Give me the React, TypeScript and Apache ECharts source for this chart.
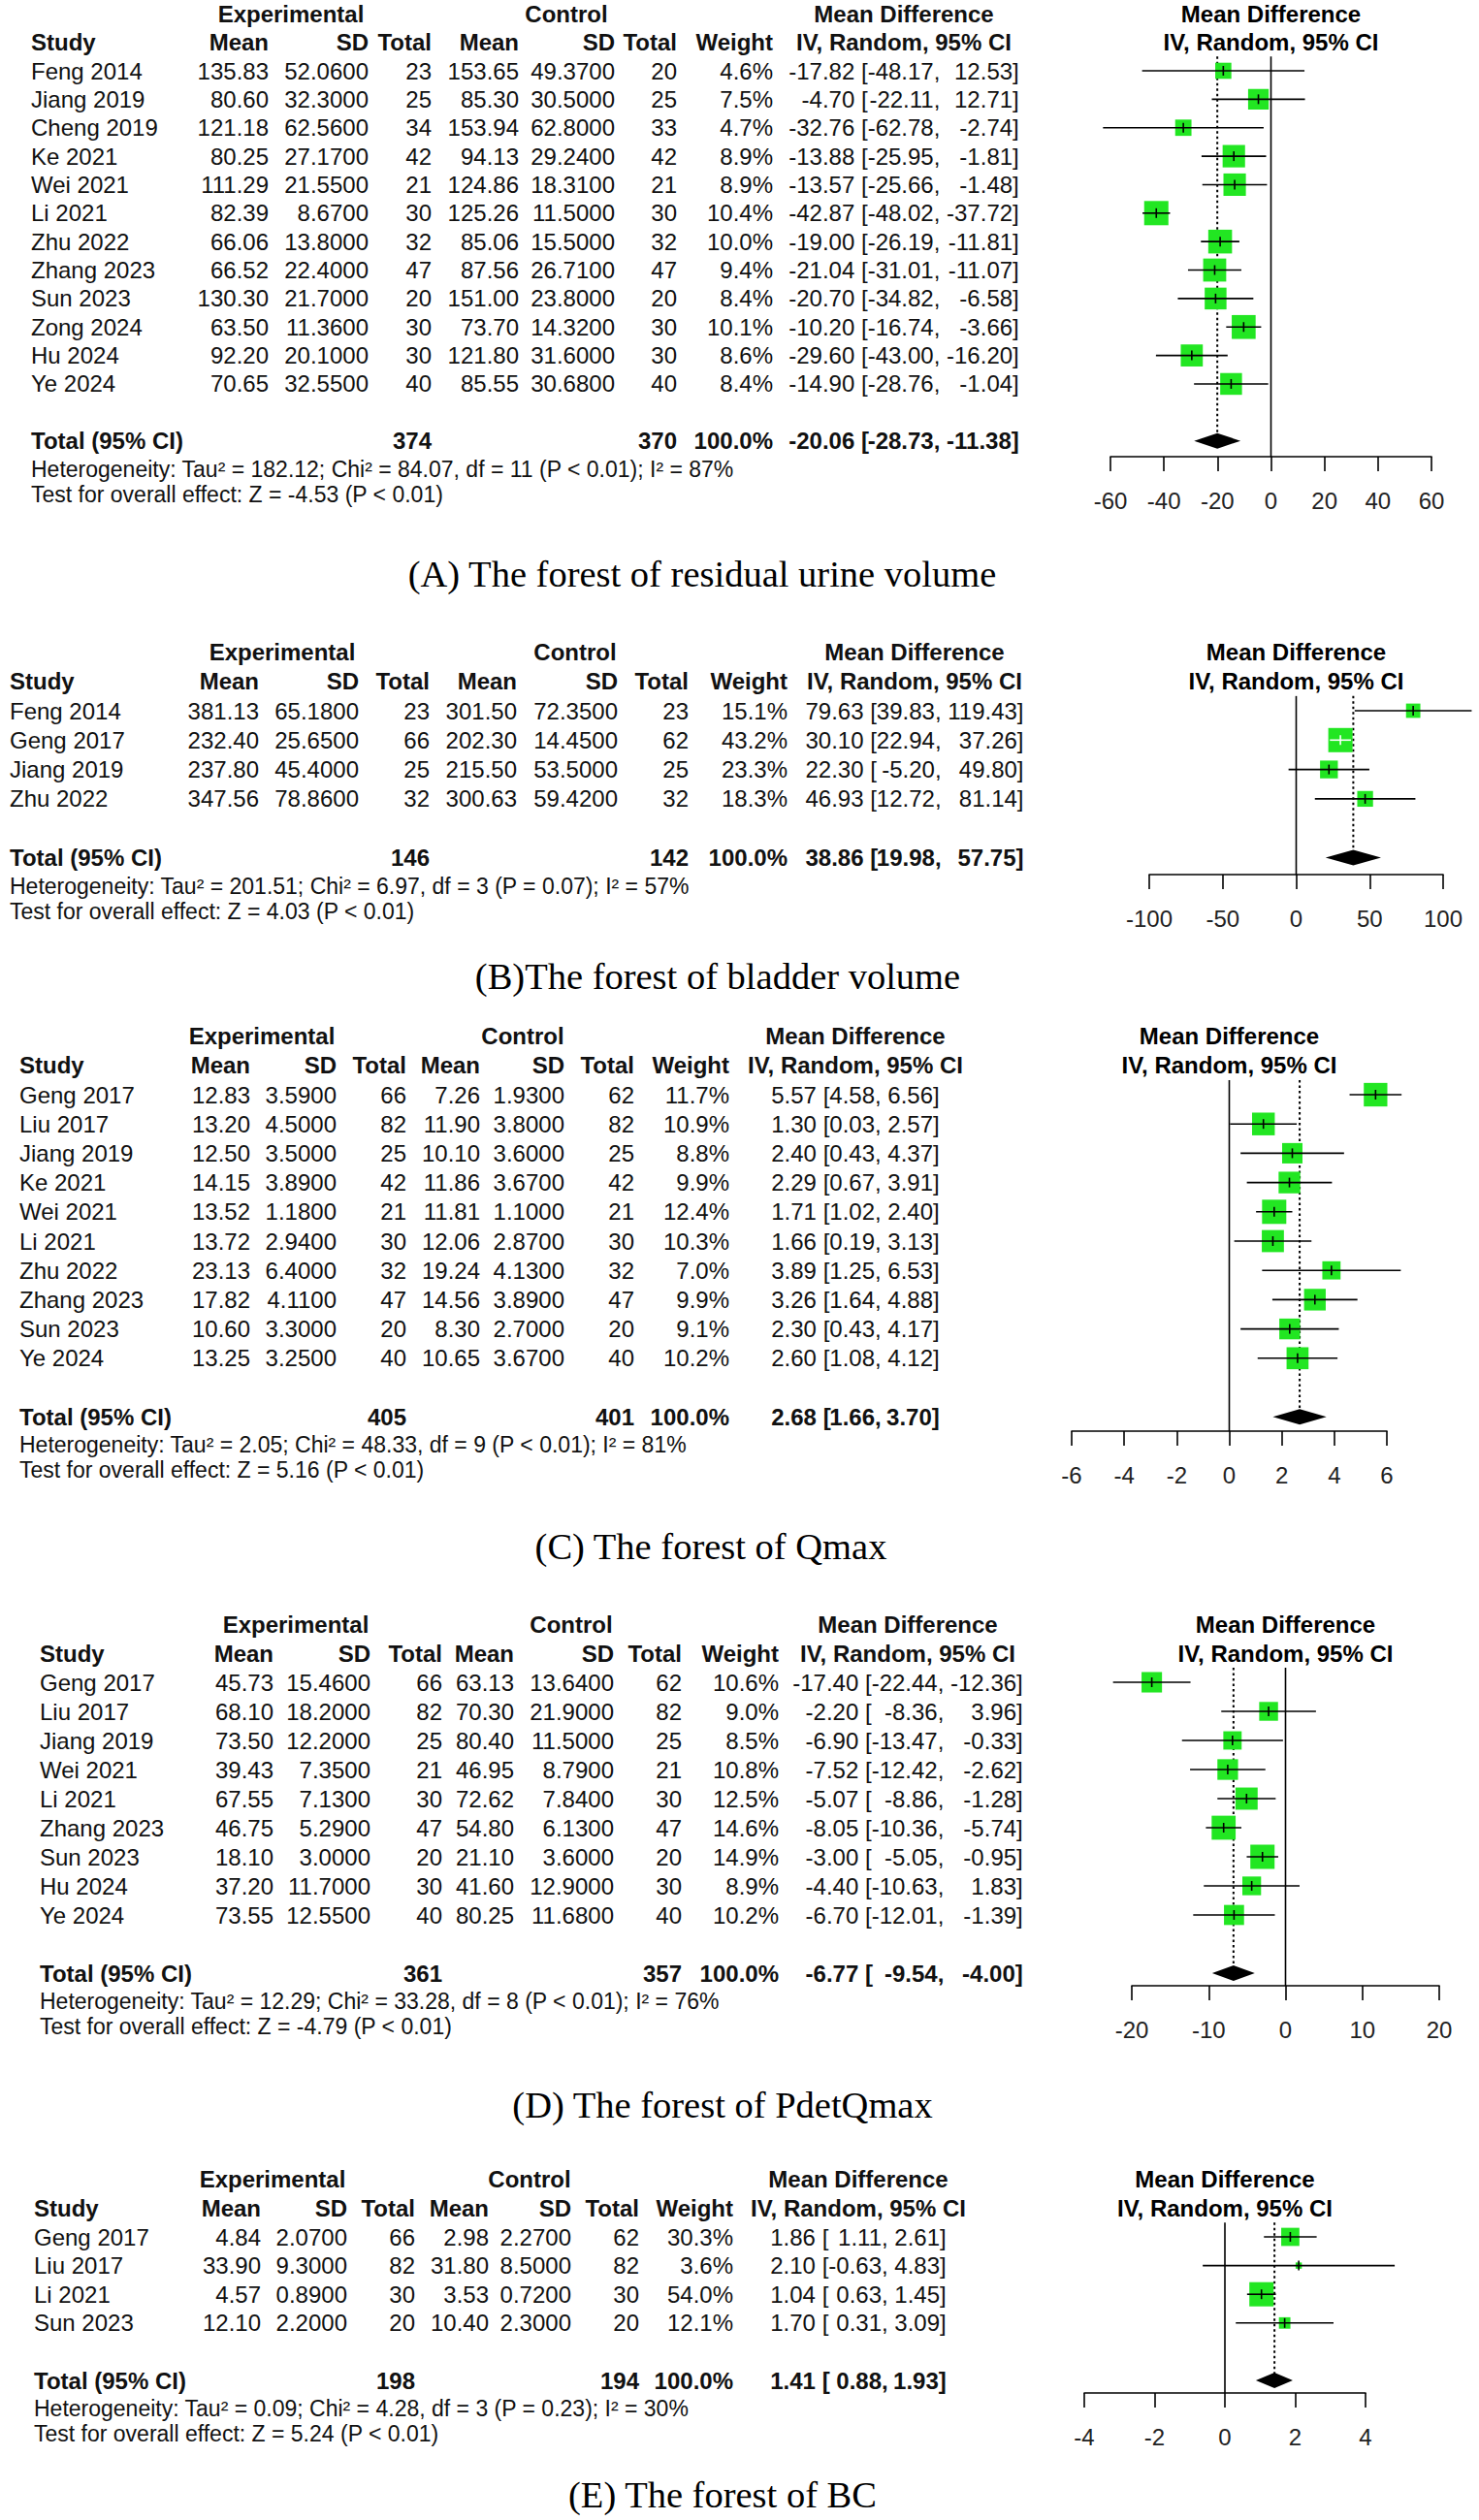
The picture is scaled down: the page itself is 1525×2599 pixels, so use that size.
import React, { useEffect, useRef } from "react";
import * as echarts from "echarts";

// ===== Panel A: residual urine volume =====
const A_studies = ["Feng 2014", "Jiang 2019", "Cheng 2019", "Ke 2021", "Wei 2021", "Li 2021", "Zhu 2022", "Zhang 2023", "Sun 2023", "Zong 2024", "Hu 2024", "Ye 2024"];
const A_expMean = [135.83, 80.6, 121.18, 80.25, 111.29, 82.39, 66.06, 66.52, 130.3, 63.5, 92.2, 70.65];
const A_expSD = [52.06, 32.3, 62.56, 27.17, 21.55, 8.67, 13.8, 22.4, 21.7, 11.36, 20.1, 32.55];
const A_expN = [23, 25, 34, 42, 21, 30, 32, 47, 20, 30, 30, 40];
const A_ctlMean = [153.65, 85.3, 153.94, 94.13, 124.86, 125.26, 85.06, 87.56, 151.0, 73.7, 121.8, 85.55];
const A_ctlSD = [49.37, 30.5, 62.8, 29.24, 18.31, 11.5, 15.5, 26.71, 23.8, 14.32, 31.6, 30.68];
const A_ctlN = [20, 25, 33, 42, 21, 30, 32, 47, 20, 30, 30, 40];
const A_weight = [4.6, 7.5, 4.7, 8.9, 8.9, 10.4, 10.0, 9.4, 8.4, 10.1, 8.6, 8.4];
const A_md = [-17.82, -4.7, -32.76, -13.88, -13.57, -42.87, -19.0, -21.04, -20.7, -10.2, -29.6, -14.9];
const A_lo = [-48.17, -22.11, -62.78, -25.95, -25.66, -48.02, -26.19, -31.01, -34.82, -16.74, -43.0, -28.76];
const A_hi = [12.53, 12.71, -2.74, -1.81, -1.48, -37.72, -11.81, -11.07, -6.58, -3.66, -16.2, -1.04];
const A_totalN = [374, 370];
const A_pooled = [-20.06, -28.73, -11.38];
const A_ticks = [-60, -40, -20, 0, 20, 40, 60];
const A_het = "Heterogeneity: Tau² = 182.12; Chi² = 84.07, df = 11 (P < 0.01); I² = 87%";
const A_test = "Test for overall effect: Z = -4.53 (P < 0.01)";
const A_caption = "(A) The forest of residual urine volume";

// ===== Panel B: bladder volume =====
const B_studies = ["Feng 2014", "Geng 2017", "Jiang 2019", "Zhu 2022"];
const B_expMean = [381.13, 232.4, 237.8, 347.56];
const B_expSD = [65.18, 25.65, 45.4, 78.86];
const B_expN = [23, 66, 25, 32];
const B_ctlMean = [301.5, 202.3, 215.5, 300.63];
const B_ctlSD = [72.35, 14.45, 53.5, 59.42];
const B_ctlN = [23, 62, 25, 32];
const B_weight = [15.1, 43.2, 23.3, 18.3];
const B_md = [79.63, 30.1, 22.3, 46.93];
const B_lo = [39.83, 22.94, -5.2, 12.72];
const B_hi = [119.43, 37.26, 49.8, 81.14];
const B_totalN = [146, 142];
const B_pooled = [38.86, 19.98, 57.75];
const B_ticks = [-100, -50, 0, 50, 100];
const B_het = "Heterogeneity: Tau² = 201.51; Chi² = 6.97, df = 3 (P = 0.07); I² = 57%";
const B_test = "Test for overall effect: Z = 4.03 (P < 0.01)";
const B_caption = "(B)The forest of bladder volume";

// ===== Panel C: Qmax =====
const C_studies = ["Geng 2017", "Liu 2017", "Jiang 2019", "Ke 2021", "Wei 2021", "Li 2021", "Zhu 2022", "Zhang 2023", "Sun 2023", "Ye 2024"];
const C_expMean = [12.83, 13.2, 12.5, 14.15, 13.52, 13.72, 23.13, 17.82, 10.6, 13.25];
const C_expSD = [3.59, 4.5, 3.5, 3.89, 1.18, 2.94, 6.4, 4.11, 3.3, 3.25];
const C_expN = [66, 82, 25, 42, 21, 30, 32, 47, 20, 40];
const C_ctlMean = [7.26, 11.9, 10.1, 11.86, 11.81, 12.06, 19.24, 14.56, 8.3, 10.65];
const C_ctlSD = [1.93, 3.8, 3.6, 3.67, 1.1, 2.87, 4.13, 3.89, 2.7, 3.67];
const C_ctlN = [62, 82, 25, 42, 21, 30, 32, 47, 20, 40];
const C_weight = [11.7, 10.9, 8.8, 9.9, 12.4, 10.3, 7.0, 9.9, 9.1, 10.2];
const C_md = [5.57, 1.3, 2.4, 2.29, 1.71, 1.66, 3.89, 3.26, 2.3, 2.6];
const C_lo = [4.58, 0.03, 0.43, 0.67, 1.02, 0.19, 1.25, 1.64, 0.43, 1.08];
const C_hi = [6.56, 2.57, 4.37, 3.91, 2.4, 3.13, 6.53, 4.88, 4.17, 4.12];
const C_totalN = [405, 401];
const C_pooled = [2.68, 1.66, 3.7];
const C_ticks = [-6, -4, -2, 0, 2, 4, 6];
const C_het = "Heterogeneity: Tau² = 2.05; Chi² = 48.33, df = 9 (P < 0.01); I² = 81%";
const C_test = "Test for overall effect: Z = 5.16 (P < 0.01)";
const C_caption = "(C) The forest of Qmax";

// ===== Panel D: PdetQmax =====
const D_studies = ["Geng 2017", "Liu 2017", "Jiang 2019", "Wei 2021", "Li 2021", "Zhang 2023", "Sun 2023", "Hu 2024", "Ye 2024"];
const D_expMean = [45.73, 68.1, 73.5, 39.43, 67.55, 46.75, 18.1, 37.2, 73.55];
const D_expSD = [15.46, 18.2, 12.2, 7.35, 7.13, 5.29, 3.0, 11.7, 12.55];
const D_expN = [66, 82, 25, 21, 30, 47, 20, 30, 40];
const D_ctlMean = [63.13, 70.3, 80.4, 46.95, 72.62, 54.8, 21.1, 41.6, 80.25];
const D_ctlSD = [13.64, 21.9, 11.5, 8.79, 7.84, 6.13, 3.6, 12.9, 11.68];
const D_ctlN = [62, 82, 25, 21, 30, 47, 20, 30, 40];
const D_weight = [10.6, 9.0, 8.5, 10.8, 12.5, 14.6, 14.9, 8.9, 10.2];
const D_md = [-17.4, -2.2, -6.9, -7.52, -5.07, -8.05, -3.0, -4.4, -6.7];
const D_lo = [-22.44, -8.36, -13.47, -12.42, -8.86, -10.36, -5.05, -10.63, -12.01];
const D_hi = [-12.36, 3.96, -0.33, -2.62, -1.28, -5.74, -0.95, 1.83, -1.39];
const D_totalN = [361, 357];
const D_pooled = [-6.77, -9.54, -4.0];
const D_ticks = [-20, -10, 0, 10, 20];
const D_het = "Heterogeneity: Tau² = 12.29; Chi² = 33.28, df = 8 (P < 0.01); I² = 76%";
const D_test = "Test for overall effect: Z = -4.79 (P < 0.01)";
const D_caption = "(D) The forest of PdetQmax";

// ===== Panel E: BC =====
const E_studies = ["Geng 2017", "Liu 2017", "Li 2021", "Sun 2023"];
const E_expMean = [4.84, 33.9, 4.57, 12.1];
const E_expSD = [2.07, 9.3, 0.89, 2.2];
const E_expN = [66, 82, 30, 20];
const E_ctlMean = [2.98, 31.8, 3.53, 10.4];
const E_ctlSD = [2.27, 8.5, 0.72, 2.3];
const E_ctlN = [62, 82, 30, 20];
const E_weight = [30.3, 3.6, 54.0, 12.1];
const E_md = [1.86, 2.1, 1.04, 1.7];
const E_lo = [1.11, -0.63, 0.63, 0.31];
const E_hi = [2.61, 4.83, 1.45, 3.09];
const E_totalN = [198, 194];
const E_pooled = [1.41, 0.88, 1.93];
const E_ticks = [-4, -2, 0, 2, 4];
const E_het = "Heterogeneity: Tau² = 0.09; Chi² = 4.28, df = 3 (P = 0.23); I² = 30%";
const E_test = "Test for overall effect: Z = 5.24 (P < 0.01)";
const E_caption = "(E) The forest of BC";

type Panel = {
  studies: string[]; expMean: number[]; expSD: number[]; expN: number[];
  ctlMean: number[]; ctlSD: number[]; ctlN: number[]; weight: number[];
  md: number[]; lo: number[]; hi: number[]; totalN: number[]; pooled: number[];
  ticks: number[]; het: string; test: string; caption: string;
};

const PANELS: Panel[] = [
  { studies: A_studies, expMean: A_expMean, expSD: A_expSD, expN: A_expN, ctlMean: A_ctlMean, ctlSD: A_ctlSD, ctlN: A_ctlN, weight: A_weight, md: A_md, lo: A_lo, hi: A_hi, totalN: A_totalN, pooled: A_pooled, ticks: A_ticks, het: A_het, test: A_test, caption: A_caption },
  { studies: B_studies, expMean: B_expMean, expSD: B_expSD, expN: B_expN, ctlMean: B_ctlMean, ctlSD: B_ctlSD, ctlN: B_ctlN, weight: B_weight, md: B_md, lo: B_lo, hi: B_hi, totalN: B_totalN, pooled: B_pooled, ticks: B_ticks, het: B_het, test: B_test, caption: B_caption },
  { studies: C_studies, expMean: C_expMean, expSD: C_expSD, expN: C_expN, ctlMean: C_ctlMean, ctlSD: C_ctlSD, ctlN: C_ctlN, weight: C_weight, md: C_md, lo: C_lo, hi: C_hi, totalN: C_totalN, pooled: C_pooled, ticks: C_ticks, het: C_het, test: C_test, caption: C_caption },
  { studies: D_studies, expMean: D_expMean, expSD: D_expSD, expN: D_expN, ctlMean: D_ctlMean, ctlSD: D_ctlSD, ctlN: D_ctlN, weight: D_weight, md: D_md, lo: D_lo, hi: D_hi, totalN: D_totalN, pooled: D_pooled, ticks: D_ticks, het: D_het, test: D_test, caption: D_caption },
  { studies: E_studies, expMean: E_expMean, expSD: E_expSD, expN: E_expN, ctlMean: E_ctlMean, ctlSD: E_ctlSD, ctlN: E_ctlN, weight: E_weight, md: E_md, lo: E_lo, hi: E_hi, totalN: E_totalN, pooled: E_pooled, ticks: E_ticks, het: E_het, test: E_test, caption: E_caption },
];

// ===== Layout (pixels) =====
type Layout = { row0: number; sp: number; axisY: number; x0: number; x1: number; study: number; cols: number[]; exp: number; ctl: number; md: number; capX: number; capY: number };
const LAYOUT: Layout[] = [
  { row0: 73, sp: 29.36, axisY: 471, x0: 1145, x1: 1476, study: 32, cols: [277, 380, 445, 535, 634, 698, 797], exp: 300, ctl: 584, md: 932, capX: 724, capY: 592 },
  { row0: 733, sp: 30.3, axisY: 902, x0: 1185, x1: 1488, study: 10, cols: [267, 370, 443, 533, 637, 710, 812], exp: 291, ctl: 593, md: 943, capX: 740, capY: 1007 },
  { row0: 1129, sp: 30.2, axisY: 1476, x0: 1105, x1: 1430, study: 20, cols: [258, 347, 419, 495, 582, 654, 752], exp: 270, ctl: 539, md: 882, capX: 733, capY: 1595 },
  { row0: 1735, sp: 30.0, axisY: 2048, x0: 1167, x1: 1484, study: 41, cols: [282, 382, 456, 530, 633, 703, 803], exp: 305, ctl: 589, md: 936, capX: 745, capY: 2171 },
  { row0: 2307, sp: 29.6, axisY: 2468, x0: 1118, x1: 1408, study: 35, cols: [269, 358, 428, 504, 589, 659, 756], exp: 281, ctl: 546, md: 885, capX: 745, capY: 2573 },
];

const SANS = '"Liberation Sans", Arial, sans-serif';
const SERIF = '"Liberation Serif", "Times New Roman", serif';
const BODY = 24;
const HEAD = 24;
const HETSIZE = 23;
const CAPSIZE = 38.5;
const GREEN = "#22e622";
const MAXBOX = 25;

let measureCtx: CanvasRenderingContext2D | null = null;
function tw(text: string, size: number, bold = false): number {
  if (!measureCtx) measureCtx = document.createElement("canvas").getContext("2d");
  if (!measureCtx) return text.length * size * 0.55;
  measureCtx.font = `${bold ? "bold " : ""}${size}px "Liberation Sans"`;
  return measureCtx.measureText(text).width;
}

type Cell = { x: number; text: string; align: string; bold?: boolean; size?: number };
type Line = { row: number; cells: Cell[] };

function tableLines(P: Panel, L: Layout): Line[] {
  const c = L.cols;
  const n = P.studies.length;
  const lines: Line[] = [];
  const Hc = (x: number, text: string, align: string): Cell => ({ x, text, align, bold: true, size: HEAD });
  lines.push({ row: -2, cells: [Hc(L.exp, "Experimental", "center"), Hc(L.ctl, "Control", "center"), Hc(L.md, "Mean Difference", "center")] });
  lines.push({
    row: -1,
    cells: [Hc(L.study, "Study", "left"), Hc(c[0], "Mean", "right"), Hc(c[1], "SD", "right"), Hc(c[2], "Total", "right"), Hc(c[3], "Mean", "right"), Hc(c[4], "SD", "right"), Hc(c[5], "Total", "right"), Hc(c[6], "Weight", "right"), Hc(L.md, "IV, Random, 95% CI", "center")],
  });
  // CI column anchors from text metrics
  const est = P.md.map((v) => v.toFixed(2));
  const los = P.lo.map((v) => v.toFixed(2) + ",");
  const his = P.hi.map((v) => v.toFixed(2) + "]");
  const space = tw(" ", BODY);
  const wEst = Math.max(...est.map((s) => tw(s, BODY)));
  const wLo = tw("[", BODY) + Math.max(...los.map((s) => tw(s, BODY)));
  const wHi = Math.max(...his.map((s) => tw(s, BODY)));
  const total = wEst + space + wLo + space + wHi;
  const left = L.md - total / 2;
  const xEst = left + wEst;
  const xBr = xEst + space;
  const xLo = xBr + wLo;
  const xHi = xLo + space + wHi;
  const ci = (m: number, lo: number, hi: number, bold: boolean): Cell[] => [
    { x: xEst, text: m.toFixed(2), align: "right", bold },
    { x: xBr, text: "[", align: "left", bold },
    { x: xLo, text: lo.toFixed(2) + ",", align: "right", bold },
    { x: xHi, text: hi.toFixed(2) + "]", align: "right", bold },
  ];
  P.studies.forEach((s, i) => {
    lines.push({
      row: i,
      cells: [
        { x: L.study, text: s, align: "left" },
        { x: c[0], text: P.expMean[i].toFixed(2), align: "right" },
        { x: c[1], text: P.expSD[i].toFixed(4), align: "right" },
        { x: c[2], text: String(P.expN[i]), align: "right" },
        { x: c[3], text: P.ctlMean[i].toFixed(2), align: "right" },
        { x: c[4], text: P.ctlSD[i].toFixed(4), align: "right" },
        { x: c[5], text: String(P.ctlN[i]), align: "right" },
        { x: c[6], text: P.weight[i].toFixed(1) + "%", align: "right" },
        ...ci(P.md[i], P.lo[i], P.hi[i], false),
      ],
    });
  });
  const tRow = n + 1;
  lines.push({
    row: tRow,
    cells: [
      { x: L.study, text: "Total (95% CI)", align: "left", bold: true },
      { x: c[2], text: String(P.totalN[0]), align: "right", bold: true },
      { x: c[5], text: String(P.totalN[1]), align: "right", bold: true },
      { x: c[6], text: "100.0%", align: "right", bold: true },
      ...ci(P.pooled[0], P.pooled[1], P.pooled[2], true),
    ],
  });
  lines.push({ row: tRow + 29 / L.sp, cells: [{ x: L.study, text: P.het, align: "left", size: HETSIZE }] });
  lines.push({ row: tRow + 55 / L.sp, cells: [{ x: L.study, text: P.test, align: "left", size: HETSIZE }] });
  return lines;
}

function buildOption() {
  const grid: any[] = [];
  const xAxis: any[] = [];
  const yAxis: any[] = [];
  const series: any[] = [];
  const graphic: any[] = [];

  PANELS.forEach((P, i) => {
    const L = LAYOUT[i];
    const n = P.studies.length;
    const yMax = (L.axisY - L.row0) / L.sp;
    const tRow = n + 1;
    const t0 = P.ticks[0];
    const t1 = P.ticks[P.ticks.length - 1];
    const wmax = Math.max(...P.weight);

    grid.push({ left: L.x0, top: L.row0 - L.sp, width: L.x1 - L.x0, height: L.axisY - L.row0 + L.sp, containLabel: false });
    xAxis.push({
      type: "value", gridIndex: i, min: t0, max: t1, interval: P.ticks[1] - P.ticks[0],
      axisLine: { show: true, onZero: false, lineStyle: { color: "#000", width: 1.6 } },
      axisTick: { show: true, length: 15, lineStyle: { color: "#000", width: 1.6 } },
      axisLabel: { color: "#222", fontSize: 24, fontFamily: SANS, margin: 33, showMinLabel: true, showMaxLabel: true },
      splitLine: { show: false },
    });
    yAxis.push({ type: "value", gridIndex: i, inverse: true, min: -1, max: yMax, show: false });

    // reference lines: zero (solid) and pooled (dotted)
    series.push({
      type: "custom", xAxisIndex: i, yAxisIndex: i, silent: true, z: 1,
      data: [[0, -0.5, yMax, 0], [P.pooled[0], -0.5, tRow, 1]],
      renderItem: (_p: any, api: any) => {
        const a = api.coord([api.value(0), api.value(1)]);
        const b = api.coord([api.value(0), api.value(2)]);
        const dotted = api.value(3) === 1;
        return {
          type: "line",
          shape: { x1: a[0], y1: a[1], x2: b[0], y2: b[1] },
          style: { stroke: "#000", lineWidth: dotted ? 2 : 1.6, lineDash: dotted ? [2.5, 3] : null },
        };
      },
    });

    // study squares + confidence intervals
    series.push({
      type: "custom", xAxisIndex: i, yAxisIndex: i, silent: true, z: 2,
      data: P.md.map((m, k) => [m, k, P.lo[k], P.hi[k], P.weight[k]]),
      renderItem: (_p: any, api: any) => {
        const row = api.value(1);
        const p = api.coord([api.value(0), row]);
        const l = api.coord([api.value(2), row]);
        const h = api.coord([api.value(3), row]);
        const s = MAXBOX * Math.sqrt(api.value(4) / wmax);
        const inside = h[0] - l[0] < s;
        const lc = inside ? "#fff" : "#000";
        return {
          type: "group",
          children: [
            { type: "rect", shape: { x: p[0] - s / 2, y: p[1] - s / 2, width: s, height: s }, style: { fill: GREEN } },
            { type: "line", shape: { x1: l[0], y1: p[1], x2: h[0], y2: p[1] }, style: { stroke: lc, lineWidth: 1.6 } },
            { type: "line", shape: { x1: p[0], y1: p[1] - 5, x2: p[0], y2: p[1] + 5 }, style: { stroke: lc, lineWidth: 1.6 } },
          ],
        };
      },
    });

    // pooled diamond
    series.push({
      type: "custom", xAxisIndex: i, yAxisIndex: i, silent: true, z: 3,
      data: [[P.pooled[0], tRow, P.pooled[1], P.pooled[2]]],
      renderItem: (_p: any, api: any) => {
        const row = api.value(1);
        const c = api.coord([api.value(0), row]);
        const l = api.coord([api.value(2), row]);
        const h = api.coord([api.value(3), row]);
        const hh = 8;
        return {
          type: "polygon",
          shape: { points: [[l[0], c[1]], [c[0], c[1] - hh], [h[0], c[1]], [c[0], c[1] + hh]] },
          style: { fill: "#000" },
        };
      },
    });

    // plot headers
    const mid = (t0 + t1) / 2;
    series.push({
      type: "custom", xAxisIndex: i, yAxisIndex: i, silent: true, z: 3,
      data: [[mid, -2, 0], [mid, -1, 1]],
      renderItem: (_p: any, api: any) => {
        const pt = api.coord([api.value(0), api.value(1)]);
        return {
          type: "text", x: pt[0], y: pt[1],
          style: { text: api.value(2) === 0 ? "Mean Difference" : "IV, Random, 95% CI", fill: "#000", fontSize: HEAD, fontWeight: "bold", fontFamily: SANS, align: "center", verticalAlign: "middle" },
        };
      },
    });

    // table text
    const lines = tableLines(P, L);
    series.push({
      type: "custom", xAxisIndex: i, yAxisIndex: i, silent: true, z: 3,
      data: lines.map((ln, k) => [t0, ln.row, k]),
      renderItem: (_p: any, api: any) => {
        const ln = lines[api.value(2)];
        const y = api.coord([t0, api.value(1)])[1];
        return {
          type: "group",
          children: ln.cells.map((cell) => ({
            type: "text", x: cell.x, y,
            style: {
              text: cell.text, fill: "#111", fontSize: cell.size ?? BODY, fontWeight: cell.bold ? "bold" : "normal",
              fontFamily: SANS, align: cell.align, verticalAlign: "middle",
            },
          })),
        };
      },
    });

    graphic.push({
      type: "text", x: L.capX, y: L.capY, silent: true,
      style: { text: P.caption, fill: "#000", fontSize: CAPSIZE, fontFamily: SERIF, align: "center", verticalAlign: "middle" },
    });
  });

  return { animation: false, backgroundColor: "#fff", grid, xAxis, yAxis, series, graphic };
}

export default function App() {
  const ref = useRef<HTMLDivElement>(null);
  useEffect(() => {
    if (!ref.current) return;
    const chart = echarts.init(ref.current, null, { renderer: "svg" });
    chart.setOption(buildOption() as any);
    return () => chart.dispose();
  }, []);
  return <div ref={ref} style={{ position: "absolute", left: 0, top: 0, width: 1525, height: 2599, background: "#fff" }} />;
}
